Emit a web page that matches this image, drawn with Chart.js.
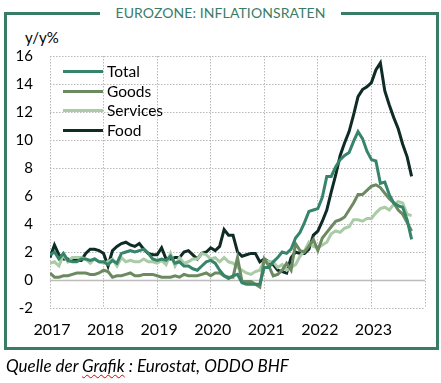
<!DOCTYPE html>
<html>
<head>
<meta charset="utf-8">
<script src="https://cdn.jsdelivr.net/npm/chart.js@4.4.0/dist/chart.umd.min.js"></script>
<style>
  html, body { margin:0; padding:0; background:#fff; }
  body { width:441px; height:383px; position:relative; overflow:hidden; font-family:Lato, "Open Sans", sans-serif; }
  #frame { position:absolute; left:4px; top:12px; width:429px; height:332px; border:3px solid #3a7d66; box-sizing:content-box; }
  #title { position:absolute; left:100px; top:4px; width:241px; text-align:center; background:#fff; color:#3a7d66; font-size:14px; line-height:18px; letter-spacing:0.1px; }
  #unit { position:absolute; left:25px; top:28px; font-size:15px; color:#000; }
  #foot { position:absolute; left:6px; top:355px; font-size:17px; font-style:italic; color:#000; }
  #foot .sp { text-decoration: underline wavy #d00; text-decoration-thickness:1px; text-underline-offset:2px; }
  #legend { position:absolute; left:63px; top:62px; }
  .li { position:relative; height:19.7px; }
  .li .sw { position:absolute; left:0; top:8px; width:40px; height:3px; }
  .li .tx { position:absolute; left:44px; top:0; font-size:15.5px; line-height:19px; color:#000; }
  canvas { position:absolute; left:0; top:0; }
</style>
</head>
<body>
<div id="frame"></div>
<div id="title">EUROZONE: INFLATIONSRATEN</div>
<div id="unit">y/y%</div>
<canvas id="c" width="441" height="383"></canvas>
<div id="legend"></div>
<div id="foot">Quelle der <span class="sp">Grafik</span> : Eurostat, ODDO BHF</div>
<script>
// Monthly data, Jan 2017 .. Oct 2023 (y/y %)
const startYear = 2017;
const seriesNames = ["Total", "Goods", "Services", "Food"];
const seriesColors = ["#368469", "#6c8a60", "#a9cba6", "#0e2b25"];

const total = [
  1.8, 2.0, 1.5, 1.9, 1.4, 1.3, 1.3, 1.5, 1.5, 1.4, 1.5, 1.3,
  1.3, 1.1, 1.4, 1.2, 1.9, 2.0, 2.1, 2.0, 2.1, 2.2, 1.9, 1.5,
  1.4, 1.5, 1.4, 1.7, 1.2, 1.3, 1.0, 1.0, 0.8, 0.7, 1.0, 1.3,
  1.4, 1.2, 0.7, 0.3, 0.1, 0.3, 0.4, -0.2, -0.3, -0.3, -0.3, -0.3,
  0.9, 0.9, 1.3, 1.6, 2.0, 1.9, 2.2, 3.0, 3.4, 4.1, 4.9, 5.0,
  5.1, 5.9, 7.4, 7.4, 8.1, 8.6, 8.9, 9.1, 9.9, 10.6, 10.1, 9.2,
  8.6, 8.5, 6.9, 7.0, 6.1, 5.5, 5.3, 5.2, 4.3, 2.9
];
const goods = [
  0.5, 0.2, 0.2, 0.3, 0.3, 0.4, 0.5, 0.5, 0.5, 0.4, 0.4, 0.5,
  0.7, 0.6, 0.2, 0.3, 0.3, 0.4, 0.5, 0.3, 0.3, 0.4, 0.4, 0.4,
  0.3, 0.2, 0.2, 0.2, 0.3, 0.2, 0.4, 0.3, 0.3, 0.3, 0.4, 0.5,
  0.3, 0.5, 0.5, 0.3, 0.2, 0.2, 1.6, -0.1, -0.1, -0.1, -0.3, -0.5,
  1.5, 1.0, 0.3, 0.4, 0.7, 1.2, 0.7, 2.6, 2.1, 2.0, 2.4, 2.9,
  2.1, 3.0, 3.4, 3.8, 4.2, 4.3, 4.5, 5.0, 5.5, 6.1, 6.1, 6.4,
  6.7, 6.8, 6.6, 6.2, 5.8, 5.5, 5.0, 4.7, 4.1, 3.5
];
const services = [
  1.2, 1.3, 1.0, 1.8, 1.3, 1.6, 1.6, 1.6, 1.5, 1.2, 1.5, 1.3,
  1.2, 1.3, 1.5, 1.0, 1.6, 1.3, 1.4, 1.3, 1.3, 1.5, 1.3, 1.3,
  1.2, 1.4, 1.1, 1.9, 1.0, 1.6, 1.2, 1.3, 1.5, 1.5, 1.9, 1.8,
  1.5, 1.6, 1.3, 1.6, 1.3, 1.2, 0.9, 0.7, 0.5, 0.4, 0.6, 0.7,
  1.4, 1.3, 1.3, 0.9, 1.1, 0.7, 0.9, 1.1, 1.7, 2.1, 2.7, 2.4,
  2.3, 2.5, 2.7, 3.3, 3.5, 3.4, 3.7, 3.8, 4.3, 4.3, 4.2, 4.4,
  4.4, 4.8, 5.1, 5.2, 5.0, 5.4, 5.6, 5.5, 4.7, 4.6
];
const food = [
  1.6, 2.5, 1.8, 1.5, 1.5, 1.4, 1.4, 1.4, 1.9, 2.2, 2.2, 2.1,
  1.9, 1.0, 2.1, 2.4, 2.6, 2.7, 2.5, 2.4, 2.6, 2.2, 1.9, 1.8,
  1.8, 2.3, 1.5, 1.5, 1.6, 1.6, 2.0, 2.1, 1.8, 1.5, 1.9, 2.0,
  2.3, 2.1, 2.4, 3.6, 3.2, 3.2, 2.0, 1.7, 1.8, 1.9, 1.9, 1.3,
  1.5, 1.3, 1.1, 0.7, 0.6, 0.5, 1.6, 2.0, 1.9, 1.9, 2.2, 3.2,
  3.5, 4.2, 5.0, 6.3, 7.5, 8.9, 9.8, 10.6, 11.8, 13.1, 13.6, 13.8,
  14.1, 15.0, 15.5, 13.5, 12.5, 11.6, 10.8, 9.7, 8.8, 7.4
];
const yearTicks = [2017, 2018, 2019, 2020, 2021, 2022, 2023];
const seriesValues = [total, goods, services, food];

const toPoints = arr => arr.map((v, i) => ({ x: startYear + i / 12, y: v }));

// HTML legend
const lg = document.getElementById('legend');
seriesNames.forEach((n, i) => {
  const d = document.createElement('div');
  d.className = 'li';
  d.innerHTML = '<div class="sw" style="background:' + seriesColors[i] + '"></div><div class="tx">' + n + '</div>';
  lg.appendChild(d);
});

const zeroLine = {
  id: 'zeroLine',
  beforeDatasetsDraw(chart) {
    const { ctx, chartArea, scales } = chart;
    const y = Math.round(scales.y.getPixelForValue(0)) + 0.5;
    ctx.save();
    ctx.strokeStyle = '#bcbcbc';
    ctx.lineWidth = 1.3;
    ctx.beginPath();
    ctx.moveTo(chartArea.left, y);
    ctx.lineTo(chartArea.right, y);
    ctx.stroke();
    ctx.restore();
  }
};

new Chart(document.getElementById('c'), {
  type: 'line',
  data: {
    datasets: seriesValues.map((vals, i) => ({
      label: seriesNames[i],
      data: toPoints(vals),
      borderColor: seriesColors[i],
      backgroundColor: seriesColors[i],
      borderWidth: 3,
      pointRadius: 0,
      tension: 0,
      fill: false
    }))
  },
  options: {
    responsive: false,
    animation: false,
    events: [],
    layout: { padding: { left: 0, right: 16, top: 56, bottom: 45 } },
    plugins: { legend: { display: false }, tooltip: { enabled: false } },
    scales: {
      x: {
        type: 'linear',
        min: 2017, max: 2024,
        afterBuildTicks: s => { s.ticks = yearTicks.concat([2024]).map(v => ({ value: v })); },
        afterFit: s => { s.height = 30; },
        grid: { color: '#b8b8b8', lineWidth: 1, drawTicks: false },
        border: { display: false, dash: [1.5, 1.5] },
        ticks: {
          padding: 12,
          labelOffset: 2,
          maxRotation: 0,
          autoSkip: false,
          color: '#000',
          font: { family: 'Lato', size: 16 },
          callback: v => (yearTicks.includes(v) ? String(v) : '')
        }
      },
      y: {
        min: -2, max: 16,
        afterFit: s => { s.width = 50; },
        grid: { color: '#b8b8b8', lineWidth: 1, drawTicks: false },
        border: { display: false, dash: [1.5, 1.5] },
        ticks: {
          stepSize: 2,
          padding: 17,
          color: '#000',
          font: { family: 'Lato', size: 15 }
        }
      }
    }
  },
  plugins: [zeroLine]
});
</script>
</body>
</html>
